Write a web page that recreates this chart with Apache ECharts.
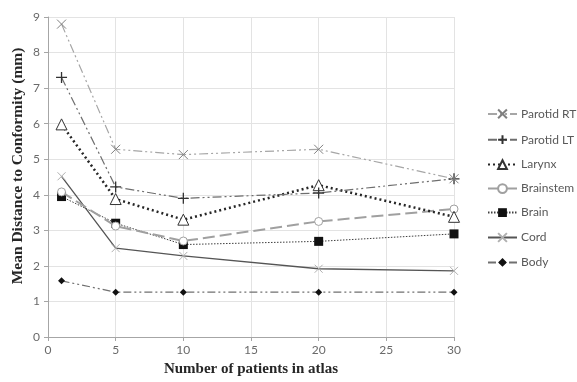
<!DOCTYPE html>
<html><head><meta charset="utf-8">
<script src="https://cdn.jsdelivr.net/npm/echarts@6/dist/echarts.min.js"></script>
<style>html,body{margin:0;padding:0;background:#fff}#c{width:577px;height:382px}</style>
</head><body><div id="c"></div>
<script>
const xValues = [1, 5, 10, 20, 30];
const seriesNames = ['Parotid RT', 'Parotid LT', 'Larynx', 'Brainstem', 'Brain', 'Cord', 'Body'];
const parotidRT = [8.8, 5.28, 5.13, 5.28, 4.45];
const parotidLT = [7.3, 4.22, 3.9, 4.05, 4.45];
const larynx = [5.98, 3.88, 3.3, 4.27, 3.38];
const brainstem = [4.08, 3.12, 2.7, 3.25, 3.6];
const brain = [3.95, 3.2, 2.6, 2.69, 2.9];
const cord = [4.52, 2.5, 2.28, 1.92, 1.86];
const body = [1.58, 1.26, 1.26, 1.26, 1.26];
const xTicks = [0, 5, 10, 15, 20, 25, 30];
const yTicks = [0, 1, 2, 3, 4, 5, 6, 7, 8, 9];

const crossPath = 'path://M0,0L10,10M10,0L0,10';
const plusPath = 'path://M5,0L5,10M0,5L10,5';
const pair = v => xValues.map((x, i) => [x, v[i]]);

const styles = [
  {data: parotidRT, color: '#a6a6a6', type: [9,3,2,3,2,3], width: 1.2, symbol: crossPath, size: 9, fill: 'none', border: '#808080', bw: 1},
  {data: parotidLT, color: '#6e6e6e', type: [9,3,2,3,2,3], width: 1.2, symbol: plusPath, size: 11, fill: 'none', border: '#333', bw: 1.3},
  {data: larynx, color: '#262626', type: [2,3], width: 2.5, symbol: 'triangle', size: 11, fill: '#fff', border: '#333', bw: 1},
  {data: brainstem, color: '#a0a0a0', type: [12,5], width: 2, symbol: 'circle', size: 8, fill: '#fff', border: '#a0a0a0', bw: 1},
  {data: brain, color: '#404040', type: [1.5,1.5], width: 1, symbol: 'rect', size: 9, fill: '#111', border: '#111', bw: 0},
  {data: cord, color: '#555555', type: 'solid', width: 1.3, symbol: crossPath, size: 8, fill: 'none', border: '#b0b0b0', bw: 1},
  {data: body, color: '#707070', type: [8,3,2,3,2,3], width: 1.2, symbol: 'diamond', size: 7, fill: '#111', border: '#111', bw: 0}
];

const series = seriesNames.map((n, i) => {
  const s = styles[i];
  return {
    name: n, type: 'line', data: pair(s.data), symbol: s.symbol, symbolSize: s.size,
    showAllSymbol: true,
    lineStyle: {color: s.color, type: s.type, width: s.width},
    itemStyle: {color: s.fill, borderColor: s.border, borderWidth: s.bw},
    emphasis: {disabled: true}, animation: false, z: 10 - i
  };
});

const chart = echarts.init(document.getElementById('c'), null, {renderer: 'canvas'});
chart.setOption({
  backgroundColor: '#fff',
  animation: false,
  grid: {left: 48, right: 123, top: 17, bottom: 39},
  xAxis: {
    type: 'value', min: xTicks[0], max: xTicks[xTicks.length - 1], interval: 5,
    name: 'Number of patients in atlas', nameLocation: 'middle', nameGap: 25,
    nameTextStyle: {fontFamily: 'Liberation Serif', fontWeight: 'bold', fontSize: 15, color: '#262626'},
    axisLine: {lineStyle: {color: '#a6a6a6'}},
    axisTick: {show: true, length: 4, lineStyle: {color: '#a6a6a6'}},
    axisLabel: {color: '#6a6a6a', fontFamily: 'Lato', fontSize: 12, margin: 7},
    splitLine: {show: true, lineStyle: {color: '#e3e3e3'}}
  },
  yAxis: {
    type: 'value', min: yTicks[0], max: yTicks[yTicks.length - 1], interval: 1,
    axisLine: {show: true, lineStyle: {color: '#a6a6a6'}},
    axisTick: {show: true, length: 4, lineStyle: {color: '#a6a6a6'}},
    axisLabel: {color: '#6a6a6a', fontFamily: 'Lato', fontSize: 12, margin: 8},
    splitLine: {show: true, lineStyle: {color: '#e3e3e3'}}
  },
  legend: {
    orient: 'vertical', left: 487, top: 107, itemGap: 12, itemWidth: 29, itemHeight: 11,
    padding: 0,
    data: seriesNames,
    textStyle: {color: '#595959', fontFamily: 'Lato', fontSize: 12, padding: [0,0,0,-1]}
  },
  graphic: [{
    type: 'text', x: 18, y: 166, rotation: Math.PI / 2,
    style: {text: 'Mean Distance to Conformity (mm)', align: 'center', verticalAlign: 'middle',
      font: 'bold 15.5px "Liberation Serif"', fill: '#262626'}
  }],
  series: series
});
</script></body></html>
